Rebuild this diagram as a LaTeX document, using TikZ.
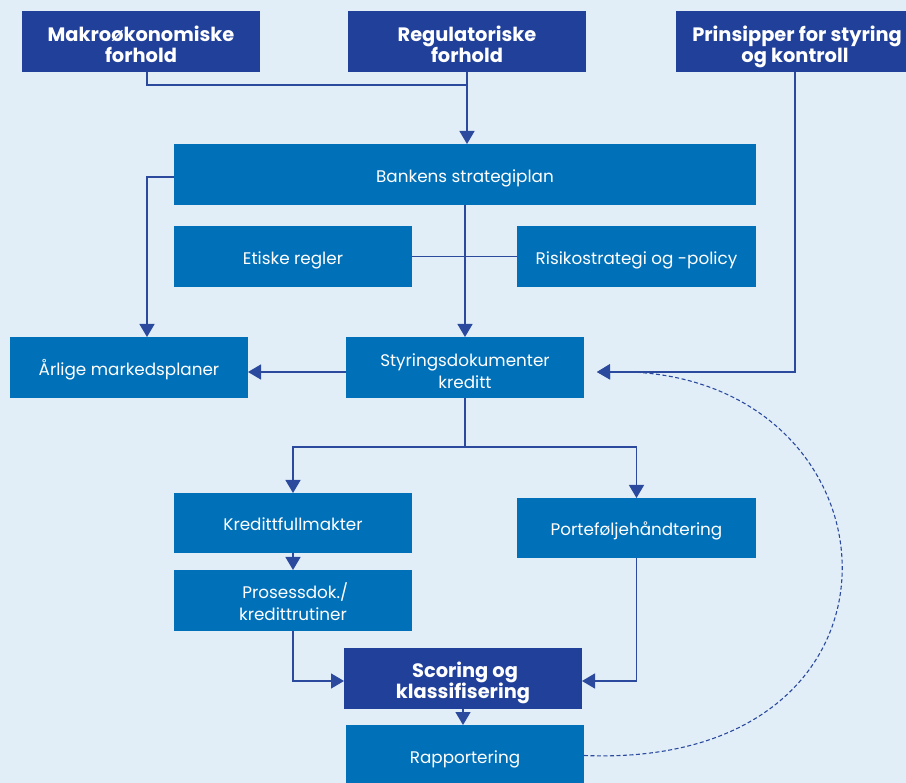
\documentclass[tikz,border=0pt]{standalone}
\usepackage{fontspec}
\setmainfont{Poppins}
\usetikzlibrary{arrows.meta}
\definecolor{bgblue}{HTML}{E1EEF8}
\definecolor{navy}{HTML}{21409A}
\definecolor{midblue}{HTML}{0070B8}
\definecolor{linkblue}{HTML}{2B4A9E}
\newcommand{\boxlift}[1][20.5pt]{\rule{0pt}{#1}}
\begin{document}
\begin{tikzpicture}[x=1pt, y=-1pt, every node/.style={minimum width=238pt, minimum height=61pt, inner sep=0pt, outer sep=0pt, anchor=north west, align=center, text=white}, headbox/.style={fill=navy, font=\bfseries\fontsize{19.4}{21}\selectfont}, stepbox/.style={fill=midblue, font=\fontsize{16.8}{22}\selectfont}, oneline/.style={text height=16pt, text depth=-7pt}, link/.style={draw=linkblue, line width=1.4pt}, tip/.style={-{Triangle[width=15pt,length=13pt]}}]
        \useasboundingbox (0,0) rectangle (906,783);
        \fill[bgblue] (0,0) rectangle (906,783);
        % top row
        \node[headbox] (makro) at (22, 11) {\boxlift Makroøkonomiske\\forhold};
        \node[headbox] (regul) at (348, 11) {\boxlift Regulatoriske\\forhold};
        \node[headbox] (prins) at (676, 11) {\boxlift[26pt] Prinsipper for styring\\og kontroll};
        % strategy level
        \node[stepbox, oneline, minimum width=582pt] (plan) at (174, 144) {Bankens strategiplan};
        \node[stepbox, oneline] (etikk) at (174, 226) {Etiske regler};
        \node[stepbox, oneline, minimum width=239pt] (risiko) at (517, 226) {Risikostrategi og -policy};
        \node[stepbox, oneline] (marked) at (10, 337) {Årlige markedsplaner};
        \node[stepbox] (styr) at (346, 337) {\boxlift Styringsdokumenter\\kreditt};
        % credit level
        \node[stepbox, oneline, minimum height=60pt] (fullm) at (174, 493) {Kredittfullmakter};
        \node[stepbox, oneline, minimum width=239pt, minimum height=60pt] (portef) at (517, 498) {Porteføljehåndtering};
        \node[stepbox] (prosess) at (174, 570) {\boxlift[19pt] Prosessdok./\\kredittrutiner};
        \node[headbox] (scoring) at (344, 648) {\boxlift[25pt] Scoring og\\klassifisering};
        \node[stepbox, oneline] (rapport) at (346, 725) {Rapportering};
        \coordinate (join) at (467, 85);
        \coordinate (split) at (465, 447);
        \coordinate (styrin) at (597, 372);
        \draw[link] ([xshift=6pt]makro.south) |- (join);
        \draw[link, tip] (regul.south) -- (regul.south |- plan.north);
        \draw[link, tip] ([yshift=-2.5pt]plan.west) -| ([xshift=18pt]marked.north);
        \draw[link] (etikk) -- (risiko);
        \draw[link, tip] (plan.south) -- (styr.north);
        \draw[link, tip] (styr.west |- styrin) -- (marked.east |- styrin);
        \draw[link, tip] (prins.south) |- (styrin);
        \draw[link] (styr.south) -- (split);
        \draw[link, tip] (split) -| (fullm.north);
        \draw[link, tip] (split) -| (portef.north);
        \draw[link, tip] (fullm.south) -- (prosess.north);
        \draw[link, tip] (prosess.south) |- ([yshift=-2.5pt]scoring.west);
        \draw[link, tip] (portef.south) |- ([yshift=-2.5pt]scoring.east);
        \draw[link, tip] (scoring.south) -- (rapport.north -| scoring.south);
        \draw[link, tip, line width=1.1pt, dash pattern=on 4pt off 2.5pt] (rapport.east) .. controls (940, 770) and (908, 365) .. (styrin);
    \end{tikzpicture}
\end{document}
